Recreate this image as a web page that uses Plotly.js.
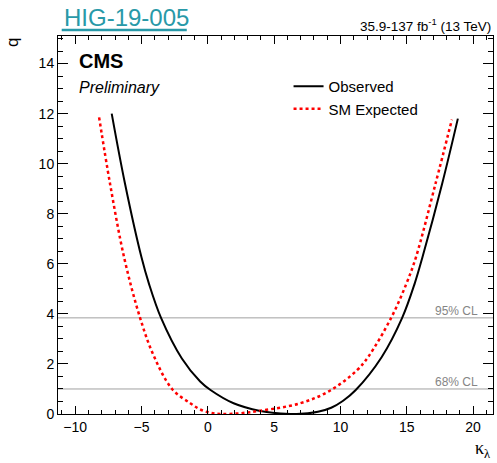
<!DOCTYPE html>
<html>
<head>
<meta charset="utf-8">
<script src="https://cdn.plot.ly/plotly-3.0.1.min.js"></script>
<style>html,body{margin:0;padding:0;background:#fff;}#chart{width:497px;height:463px;}</style>
</head>
<body>
<div id="chart"></div>
<script>
// Observed likelihood scan (kappa_lambda, q)
var obsKappa = [-7.25, -6.25, -5.0, -4.45, -3.53, -1.96, -0.58, 0.2, 1.94, 3.95, 5.08, 6.7, 8.3, 9.3, 10.2, 11.15, 13.1, 14.65, 15.6, 16.2, 17.67, 18.85];
var obsQ     = [12.0, 9.21, 6.25, 5.22, 3.84, 2.22, 1.3, 0.96, 0.43, 0.12, 0.04, 0.0, 0.09, 0.25, 0.53, 0.96, 2.27, 3.84, 5.22, 6.3, 9.21, 11.8];
// SM expected scan
var expKappa = [-8.2, -7.38, -6.3, -5.11, -4.1, -2.7, -1.3, -0.5, 0.2, 1.0, 2.44, 3.95, 6.97, 9.2, 11.25, 12.1, 13.82, 14.98, 15.7, 17.17, 18.4];
var expQ     = [11.85, 9.21, 6.22, 3.84, 2.35, 1.0, 0.42, 0.16, 0.05, 0.0, 0.03, 0.13, 0.43, 0.93, 1.75, 2.29, 3.84, 5.22, 6.28, 9.21, 11.76];
var seriesNames = ['Observed', 'SM Expected'];
// Confidence-level reference lines
var clLevels = [1.0, 3.84];
var clLabels = ['68% CL', '95% CL'];
// Axis ticks
var xTickVals = [-10, -5, 0, 5, 10, 15, 20];
var yTickVals = [0, 2, 4, 6, 8, 10, 12, 14];

var FONT = 'Liberation Sans, Arial, Helvetica, sans-serif';

var traces = [
  {x: obsKappa, y: obsQ, name: seriesNames[0], mode: 'lines', type: 'scatter',
   line: {color: '#000000', width: 2, shape: 'spline', smoothing: 1}},
  {x: expKappa, y: expQ, name: seriesNames[1], mode: 'lines', type: 'scatter',
   line: {color: '#ff0000', width: 2.5, dash: 'dot', shape: 'spline', smoothing: 1}}
];

var shapes = clLevels.map(function(v){
  return {type: 'line', xref: 'paper', yref: 'y', x0: 0, x1: 1, y0: v, y1: v,
          line: {color: '#a0a0a0', width: 1}, layer: 'below'};
});
shapes.push({type: 'line', xref: 'paper', yref: 'paper', x0: 0.0085, x1: 0.296, y0: 1.0159, y1: 1.0159,
             line: {color: '#2899a8', width: 2.5}});

var annotations = clLevels.map(function(v, i){
  return {text: clLabels[i], xref: 'paper', yref: 'y', x: 0.969, y: v, xanchor: 'right', yanchor: 'bottom',
          showarrow: false, yshift: -2, font: {family: FONT, size: 12, color: '#858585'}};
});
annotations.push(
  {text: 'HIG-19-005', xref: 'paper', yref: 'paper', x: 0.0085, y: 1.050, xanchor: 'left', yanchor: 'middle',
   showarrow: false, font: {family: FONT, size: 24, color: '#2899a8'}},
  {text: '35.9-137 fb<sup>-1</sup> (13 TeV)', xref: 'paper', yref: 'paper', x: 1.0, y: 1.0, xanchor: 'right', yanchor: 'bottom',
   showarrow: false, font: {family: FONT, size: 13.5, color: '#000'}},
  {text: '<b>CMS</b>', xref: 'paper', yref: 'paper', x: 0.043, y: 0.935, xanchor: 'left', yanchor: 'middle',
   showarrow: false, font: {family: FONT, size: 20, color: '#000'}},
  {text: '<i>Preliminary</i>', xref: 'paper', yref: 'paper', x: 0.0437, y: 0.864, xanchor: 'left', yanchor: 'middle',
   showarrow: false, font: {family: FONT, size: 16, color: '#000'}},
  {text: 'q', xref: 'paper', yref: 'paper', x: -0.106, y: 0.984, xanchor: 'center', yanchor: 'middle', textangle: -90,
   showarrow: false, font: {family: FONT, size: 17, color: '#000'}},
  {text: 'κ<sub>λ</sub>', xref: 'paper', yref: 'paper', x: 1.0, y: -0.1296, xanchor: 'right', yanchor: 'bottom',
   showarrow: false, font: {family: 'Liberation Serif, Times New Roman, serif', size: 18, color: '#000'}}
);

var layout = {
  width: 497, height: 463,
  margin: {l: 58, r: 4.3, t: 36, b: 49, pad: 0},
  paper_bgcolor: '#ffffff', plot_bgcolor: '#ffffff',
  showlegend: true,
  legend: {x: 0.53, y: 0.91, xanchor: 'left', yanchor: 'top', bgcolor: 'rgba(0,0,0,0)', borderwidth: 0,
           font: {family: FONT, size: 15, color: '#000'}, tracegroupgap: 0},
  xaxis: {range: [-11.3, 21.5], tickvals: xTickVals, ticks: 'inside', ticklen: 8, tickcolor: '#000', tickwidth: 1,
          showline: true, linecolor: '#000', linewidth: 1, mirror: 'ticks', zeroline: false, showgrid: false,
          tickfont: {family: FONT, size: 14, color: '#000'},
          minor: {dtick: 1, tick0: 0, ticks: 'inside', ticklen: 4, tickcolor: '#000', showgrid: false}},
  yaxis: {range: [0, 15.1], tickvals: yTickVals, ticks: 'inside', ticklen: 10, tickcolor: '#000', tickwidth: 1,
          showline: true, linecolor: '#000', linewidth: 1, mirror: 'ticks', zeroline: false, showgrid: false,
          tickfont: {family: FONT, size: 14, color: '#000'},
          minor: {dtick: 0.5, tick0: 0, ticks: 'inside', ticklen: 5, tickcolor: '#000', showgrid: false}},
  shapes: shapes,
  annotations: annotations
};

Plotly.newPlot('chart', traces, layout, {staticPlot: true, displayModeBar: false});
</script>
</body>
</html>
